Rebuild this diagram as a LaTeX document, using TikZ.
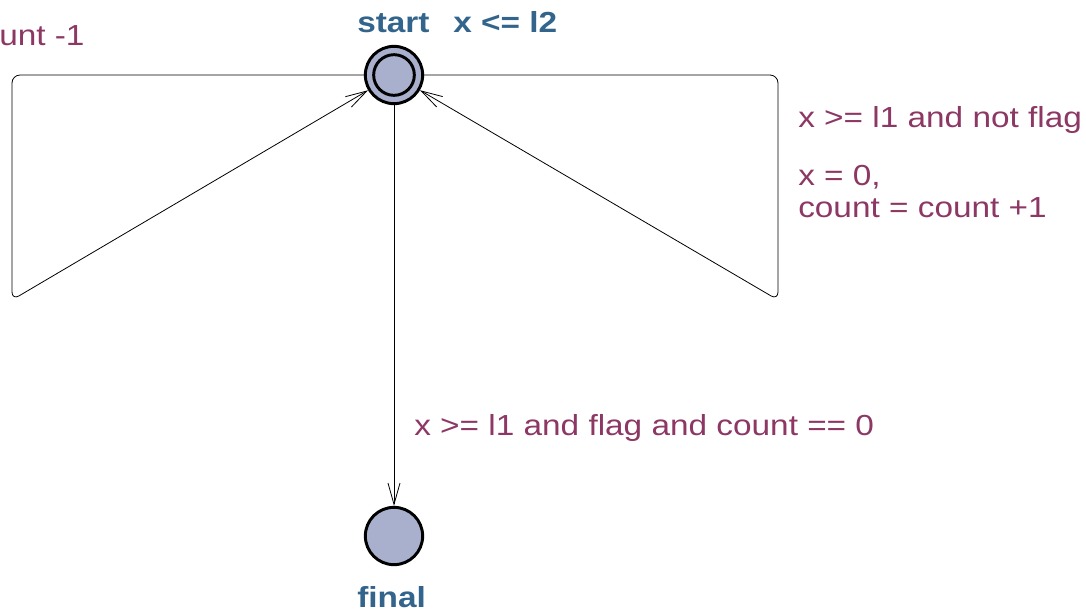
\documentclass[tikz,border=0pt]{standalone}
\usepackage{fontspec}
\setmainfont{Liberation Sans}[FakeStretch=1.15]
\usetikzlibrary{arrows.meta}

\definecolor{locfill}{RGB}{168,176,206}
\definecolor{locname}{RGB}{50,100,140}
\definecolor{guardcol}{RGB}{140,55,100}

\tikzset{
  loc/.style={circle,draw=black,line width=2.2pt,fill=locfill,minimum size=43pt,inner sep=0pt},
  locname/.style={text=locname,font=\fontsize{21.75pt}{24pt}\selectfont\bfseries,inner sep=0pt,anchor=base west},
  guard/.style={text=guardcol,font=\fontsize{21.75pt}{24pt}\selectfont,inner sep=0pt,anchor=base west,align=left},
  edge/.style={line width=0.6pt,-{Straight Barb[length=16pt,width=9pt,line width=0.6pt]}},
}

\begin{document}
\begin{tikzpicture}[x=0.75pt,y=-0.75pt]
\useasboundingbox (0,0) rectangle (1086,612);

% locations
\node[loc] (start) at (394,75) {};
\node[circle,draw=black,line width=2.2pt,minimum size=30.5pt,inner sep=0pt] (startin) at (start) {};
\node[loc] (final) at (394,536) {};

\node[locname] (startname) at (357,32) {start};
\node[locname] (startinv) at (453,32) {x <= l2};
\node[locname] (finalname) at (357,607) {final};

% nails of the two loops
\coordinate (nl1) at (12,75);
\coordinate (nl2) at (12,300);
\coordinate (nr1) at (778,75);
\coordinate (nr2) at (778,300);

\draw[edge,rounded corners=6pt] (start) -- (nl1) -- (nl2) -- (start);
\draw[edge,rounded corners=6pt] (start) -- (nr1) -- (nr2) -- (start);
\draw[edge] (start) -- (final);

% labels
\node[guard] (lguard) at (-1,45) {unt -1};
\node[guard] (rguard) at (798,127) {x >= l1 and not flag};
\node[guard] (rassign) at (798,217) {x = 0,\\count = count +1};
\node[guard] (dguard) at (414,435) {x >= l1 and flag and count == 0};
\end{tikzpicture}
\end{document}
